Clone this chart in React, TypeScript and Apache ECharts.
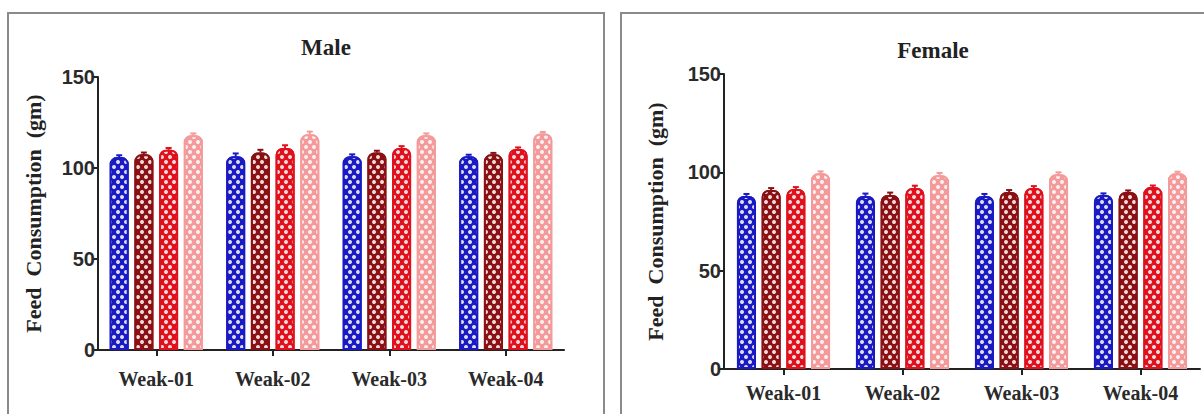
import React, { useEffect, useRef } from 'react';
import * as echarts from 'echarts';

const categories = ['Weak-01', 'Weak-02', 'Weak-03', 'Weak-04'];
const yMin = 0;
const yMax = 150;
const yStep = 50;

const male1 = [106, 106.5, 106.5, 106.5];
const male2 = [107.5, 108.5, 108.5, 107.5];
const male3 = [110, 111, 111, 110.5];
const male4 = [118, 118.5, 118, 119];
const maleErr = [1.0, 1.5, 1.0, 0.8];

const female1 = [88, 88, 88, 88.5];
const female2 = [91, 88.5, 90, 90];
const female3 = [91.5, 92, 92, 92.5];
const female4 = [99.5, 98.5, 99, 99.5];
const femaleErr = [1.0, 1.2, 1.0, 0.8];

const colors = ['#1a1ac4', '#8a1014', '#e0101c', '#f49a9a'];
const serif = '"Liberation Serif", "Times New Roman", serif';
const sans = '"Liberation Sans", Arial, sans-serif';

const BAR_W = 19;
const BAR_GAP = 0.3;

function decal() {
  return {
    symbol: 'circle',
    symbolSize: 1,
    color: 'rgba(255,255,255,0.85)',
    dashArrayX: [[4, 4], [0, 4, 4, 0]],
    dashArrayY: [3.5, 0.01],
    rotation: 0,
  };
}

function barSeries(data: number[], idx: number, gridIdx: number) {
  return {
    type: 'bar',
    xAxisIndex: gridIdx,
    yAxisIndex: gridIdx,
    data,
    barWidth: BAR_W,
    barGap: BAR_GAP * 100 + '%',
    itemStyle: {
      color: colors[idx],
      borderColor: colors[idx],
      borderWidth: 2,
      borderRadius: [6, 6, 0, 0],
      decal: decal(),
    },
  };
}

function errSeries(data: number[], err: number[], idx: number, gridIdx: number) {
  const step = BAR_W * (1 + BAR_GAP);
  const off = (idx - 1.5) * step;
  return {
    type: 'custom',
    xAxisIndex: gridIdx,
    yAxisIndex: gridIdx,
    data: data.map((v, i) => [i, v, err[i]]),
    z: 5,
    renderItem: (params: any, api: any) => {
      const c = api.value(0);
      const v = api.value(1);
      const e = api.value(2);
      const p0 = api.coord([c, v]);
      const p1 = api.coord([c, v + e]);
      const x = p0[0] + off;
      return {
        type: 'group',
        children: [
          { type: 'line', shape: { x1: x, y1: p0[1], x2: x, y2: p1[1] }, style: { stroke: colors[idx], lineWidth: 2 } },
          { type: 'line', shape: { x1: x - 3, y1: p1[1], x2: x + 3, y2: p1[1] }, style: { stroke: colors[idx], lineWidth: 2 } },
        ],
      };
    },
  };
}

function yAxis(gridIndex: number, nameGap: number) {
  return {
    type: 'value',
    gridIndex,
    min: yMin,
    max: yMax,
    interval: yStep,
    name: 'Feed  Consumption  (gm)',
    nameLocation: 'middle',
    nameGap,
    nameTextStyle: { fontFamily: serif, fontWeight: 'bold', fontSize: 22, color: '#222' },
    axisLine: { show: true, lineStyle: { color: '#222', width: 2 } },
    axisTick: { show: true, length: 6, lineStyle: { color: '#222', width: 2 } },
    splitLine: { show: false },
    axisLabel: { fontFamily: sans, fontWeight: 'bold', fontSize: 20, color: '#2a2a2a', margin: 3 },
  };
}

function xAxis(gridIndex: number, margin: number) {
  return {
    type: 'category',
    gridIndex,
    data: categories,
    axisLine: { show: true, lineStyle: { color: '#222', width: 2 } },
    axisTick: { show: true, alignWithLabel: true, length: 6, lineStyle: { color: '#222', width: 2 } },
    axisLabel: { fontFamily: serif, fontWeight: 'bold', fontSize: 20, color: '#2a2a2a', margin },
  };
}

export default function App() {
  const ref = useRef<HTMLDivElement>(null);
  useEffect(() => {
    if (!ref.current) return;
    const chart = echarts.init(ref.current, undefined, { renderer: 'svg' });
    const maleData = [male1, male2, male3, male4];
    const femaleData = [female1, female2, female3, female4];
    chart.setOption({
      animation: false,
      backgroundColor: '#ffffff',
      title: [
        { text: 'Male', left: 321, top: 31, textAlign: 'center', textStyle: { fontFamily: serif, fontWeight: 'bold', fontSize: 23, color: '#222' } },
        { text: 'Female', left: 928, top: 34, textAlign: 'center', textStyle: { fontFamily: serif, fontWeight: 'bold', fontSize: 23, color: '#222' } },
      ],
      graphic: [
        { type: 'rect', shape: { x: 8, y: 13, width: 596, height: 430 }, style: { fill: 'none', stroke: '#8a8a8a', lineWidth: 2 }, z: 0 },
        { type: 'rect', shape: { x: 621, y: 13, width: 600, height: 430 }, style: { fill: 'none', stroke: '#8a8a8a', lineWidth: 2 }, z: 0 },
      ],
      grid: [
        { left: 98, top: 77, width: 466, height: 273 },
        { left: 724, top: 74, width: 476, height: 295 },
      ],
      xAxis: [xAxis(0, 19), xAxis(1, 14)],
      yAxis: [yAxis(0, 54), yAxis(1, 58)],
      series: [
        ...maleData.map((d, i) => barSeries(d, i, 0)),
        ...femaleData.map((d, i) => barSeries(d, i, 1)),
        ...maleData.map((d, i) => errSeries(d, maleErr, i, 0)),
        ...femaleData.map((d, i) => errSeries(d, femaleErr, i, 1)),
      ],
    });
    return () => chart.dispose();
  }, []);
  return <div ref={ref} style={{ position: 'fixed', left: 0, top: 0, width: 1204, height: 414 }} />;
}
